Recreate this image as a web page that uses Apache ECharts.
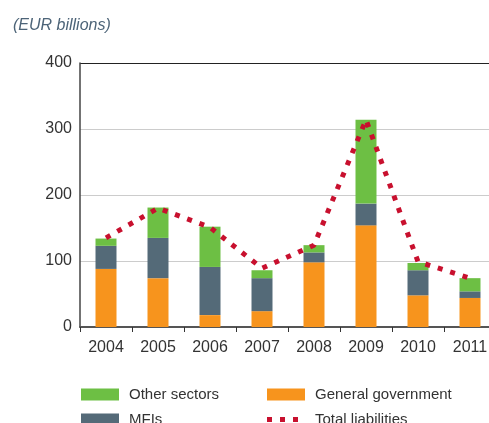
<!DOCTYPE html>
<html>
<head>
<meta charset="utf-8">
<script src="https://cdn.jsdelivr.net/npm/echarts@6/dist/echarts.min.js"></script>
<style>
  html, body { margin: 0; padding: 0; background: #fff; }
  #chart { width: 489px; height: 423px; }
</style>
</head>
<body>
<div id="chart"></div>
<script>
// data
const years = ['2004', '2005', '2006', '2007', '2008', '2009', '2010', '2011']
const generalGovernment = [88, 74, 18, 24, 98, 154, 48, 44]
const mfis = [35, 61, 73, 50, 15, 33, 38, 10]
const otherSectors = [11, 46, 61, 12, 11, 127, 11, 20]
const totalLiabilities = [135, 180, 151, 89, 124, 314, 99, 74]
const yTicks = [0, 100, 200, 300, 400]

const font = 'Liberation Sans, Arial, sans-serif'
const chart = echarts.init(document.getElementById('chart'))

let legendText = { fontFamily: font, fontSize: 15, color: '#333', padding: [0, 0, 0, 5] }

// one legend per item so the 2x2 layout is exact
function legendItem(name, left, top, extra) {
  return Object.assign({
    orient: 'horizontal', left: left, top: top, padding: 0,
    itemWidth: 38, itemHeight: 12, icon: 'rect',
    data: [name], textStyle: legendText, selectedMode: false
  }, extra || {})
}

let option = {
  animation: false,
  title: {
    text: '(EUR billions)',
    left: 8,
    top: 13,
    textStyle: { fontFamily: font, fontSize: 16, fontStyle: 'italic', fontWeight: 'normal', color: '#4d6478' }
  },
  grid: { left: 80, width: 416, top: 63, bottom: 96, outerBoundsMode: 'none', containLabel: false },
  legend: [
    legendItem('Other sectors', 81, 387),
    legendItem('MFIs', 81, 412),
    legendItem('General government', 267, 387),
    legendItem('Total liabilities', 267, 412, {
      itemWidth: 31, itemHeight: 5,
      icon: 'path://M0,0h5v5h-5z M13,0h5v5h-5z M26,0h5v5h-5z',
      lineStyle: { width: 0 },
      textStyle: Object.assign({}, legendText, { padding: [0, 0, 0, 12] })
    })
  ],
  xAxis: {
    type: 'category',
    data: years,
    axisLine: { lineStyle: { color: '#555', width: 2 } },
    axisTick: { show: true, length: 5, lineStyle: { color: '#333' } },
    axisLabel: { fontFamily: font, fontSize: 16, color: '#333', margin: 13 }
  },
  yAxis: {
    type: 'value',
    min: 0,
    max: 400,
    interval: 100,
    axisLine: { show: true, lineStyle: { color: '#444', width: 1.5 } },
    axisTick: { show: false },
    axisLabel: {
      fontFamily: font, fontSize: 16, color: '#333', margin: 8,
      formatter: v => yTicks.includes(v) ? String(v) : ''
    },
    splitLine: { lineStyle: { color: ['#ccc', '#ccc', '#ccc', '#ccc', '#222'], width: 1 } }
  },
  series: [
    {
      name: 'General government', type: 'bar', stack: 'total', barWidth: 21,
      data: generalGovernment, itemStyle: { color: '#f7941d' }
    },
    {
      name: 'MFIs', type: 'bar', stack: 'total', barWidth: 21,
      data: mfis, itemStyle: { color: '#546a78' }
    },
    {
      name: 'Other sectors', type: 'bar', stack: 'total', barWidth: 21,
      data: otherSectors, itemStyle: { color: '#6dbf44' }
    },
    {
      name: 'Total liabilities', type: 'line', data: totalLiabilities,
      showSymbol: false, symbol: 'none', z: 5,
      itemStyle: { color: '#c8102e' },
      lineStyle: { color: '#c8102e', width: 5, type: [5, 8], cap: 'butt' }
    }
  ]
}
chart.setOption(option)
</script>
</body>
</html>
